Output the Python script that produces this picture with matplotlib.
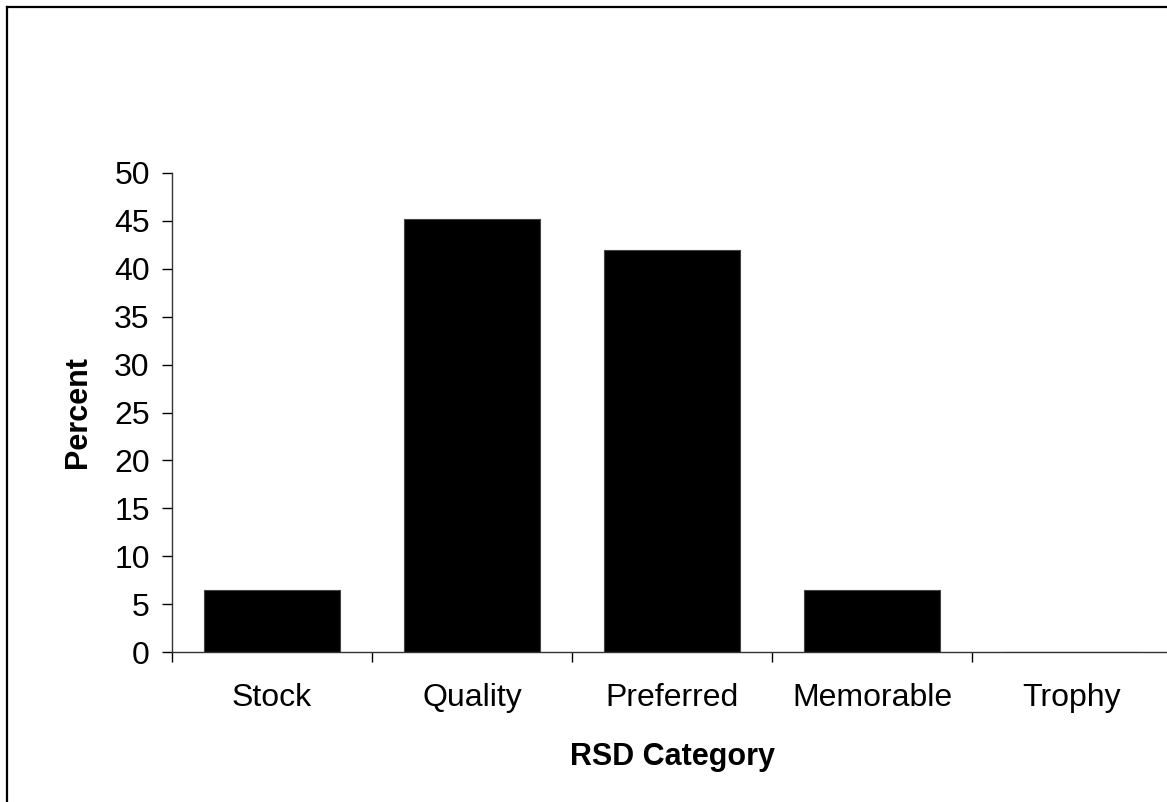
import matplotlib.pyplot as plt
from matplotlib.lines import Line2D

categories = ["Stock", "Quality", "Preferred", "Memorable", "Trophy"]
percent = [6.45, 45.16, 41.94, 6.45, 0.0]
y_ticks = list(range(0, 55, 5))

plt.rcParams['font.family'] = ['Liberation Sans', 'DejaVu Sans']

W, H = 1167, 802
fig = plt.figure(figsize=(W / 100, H / 100), dpi=100)
ax = fig.add_axes([172 / W, 1 - 652 / H, 1000 / W, (652 - 173) / H])

x = list(range(len(categories)))
ax.bar(x, percent, width=0.68, color="black", edgecolor="#444444", linewidth=0.8)

ax.set_xlim(-0.5, len(categories) - 0.5)
ax.set_ylim(0, 50)
ax.set_yticks(y_ticks)
ax.set_xticks(x)
ax.set_xticklabels(categories)
ax.set_xticks([i - 0.5 for i in range(len(categories) + 1)], minor=True)

ax.tick_params(axis="x", which="major", length=0, labelsize=23, pad=22)
ax.tick_params(axis="x", which="minor", length=7, width=1, direction="out")
ax.tick_params(axis="y", length=7, width=1, direction="out", labelsize=23, pad=9)

for side in ["top", "right"]:
    ax.spines[side].set_visible(False)
for side in ["left", "bottom"]:
    ax.spines[side].set_color("#333333")
    ax.spines[side].set_linewidth(1)

ax.set_xlabel("RSD Category", fontsize=22, fontweight="bold", labelpad=21)
ax.set_ylabel("Percent", fontsize=22, fontweight="bold", labelpad=15)

# chart-area border (only top and left visible in the cropped image)
fig.add_artist(Line2D([6.5 / W, 6.5 / W], [0, 1 - 7 / H], transform=fig.transFigure, color="black", lw=1.6))
fig.add_artist(Line2D([6.5 / W, 1], [1 - 7 / H, 1 - 7 / H], transform=fig.transFigure, color="black", lw=1.6))

fig.savefig("out.png", dpi=100)
